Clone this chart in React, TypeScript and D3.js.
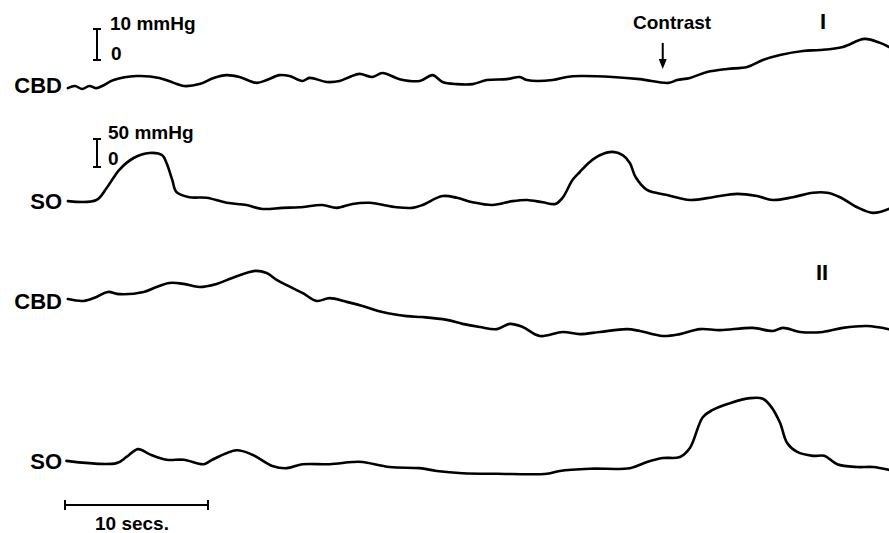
import React from "react";
import * as d3 from "d3";

// time in seconds, pressure in mmHg
const cbd1T = [0.2,0.7,1.2,1.7,2.2,2.6,3.4,5.0,6.6,7.6,8.3,9.4,10.4,11.3,12.2,13.4,14.1,15.0,15.7,16.6,17.1,18.3,19.2,19.9,20.6,21.5,22.2,23.4,24.8,25.7,26.4,27.4,28.5,29.5,30.9,31.8,32.3,34.1,35.1,36.0,38.3,40.2,42.2,42.8,43.7,44.9,46.3,47.7,48.8,50.0,51.6,52.8,54.4,55.9,57.0,57.6];
const cbd1V = [0.6,1.3,0.3,1.3,0.6,1.3,3.2,4.5,3.9,2.3,1.3,1.9,3.9,4.8,4.2,2.3,3.2,4.8,4.5,2.9,3.9,2.6,2.9,4.2,5.2,4.2,5.5,3.5,2.9,4.8,2.6,1.9,1.9,3.2,3.5,4.2,3.2,3.2,4.2,4.5,4.2,3.5,2.3,3.2,3.9,5.8,6.8,7.4,9.7,11.3,12.6,12.9,13.9,16.5,15.2,13.9];

const so1T = [0.2,2.2,2.9,3.8,4.8,5.9,6.8,7.1,7.5,7.8,8.7,9.9,11.3,12.7,13.8,15.2,16.4,18.0,19.0,20.1,21.3,23.2,24.3,25.0,26.4,27.4,28.5,29.9,31.3,32.3,33.4,34.3,34.8,35.5,36.0,36.7,37.4,38.3,39.0,39.5,39.9,40.7,42.1,43.7,45.3,47.0,48.4,49.5,50.9,52.3,53.3,54.2,55.4,56.5,57.6];
const so1V = [23,25,46,79,100,109,105,91,61,39,30,29,20,16,9,11,12,16,11,18,20,12,11,16,32,29,21,16,23,25,21,18,29,61,75,93,105,111,105,91,66,43,34,25,30,36,32,25,30,38,38,30,12,2,9];

const cbd2T = [0.2,1.3,2.2,3.0,3.8,5.5,6.4,7.3,8.3,9.4,10.6,11.7,13.3,14.1,14.8,15.5,16.6,17.6,18.5,19.7,20.8,22.2,23.9,25.0,26.7,27.8,29.0,30.2,31.1,32.0,33.2,34.8,36.0,37.4,39.3,40.2,41.8,43.0,44.4,45.8,48.1,49.5,50.2,51.4,53.0,54.4,56.1,57.6];
const cbd2V = [13.2,12.6,13.9,15.5,14.8,15.5,17.1,18.4,18.1,17.1,18.1,20.0,22.3,21.6,19.4,17.7,15.2,12.6,13.5,12.3,11.0,9.0,7.7,7.4,6.5,5.2,4.2,3.5,5.2,4.2,1.3,2.6,1.9,2.6,3.5,2.9,1.3,1.9,3.5,3.2,3.9,2.9,3.9,2.6,2.6,3.9,4.5,3.5];

const so2T = [0.1,3.6,4.3,5.1,5.9,7.1,8.3,9.7,10.3,12.0,13.1,14.5,15.5,16.6,18.5,20.1,20.8,22.7,24.8,26.0,27.8,30.2,33.7,34.6,36.7,39.5,40.7,41.8,43.0,43.7,44.6,45.3,46.5,47.9,48.8,49.4,50.0,50.5,51.2,52.3,53.1,54.0,55.4,56.5,57.6];
const so2V = [27,23,34,48,39,29,29,21,29,46,38,18,14,21,21,25,25,16,14,9,5,4,4,9,13,14,25,32,34,50,105,118,130,139,138,123,95,59,43,36,36,21,16,16,11];

const traceLabels = ["CBD", "SO", "CBD", "SO"];
const phaseLabels = ["I", "II"];
const cbdScaleLabel = ["10 mmHg", "0"];
const soScaleLabel = ["50 mmHg", "0"];
const cbdScaleValue = 10;
const soScaleValue = 50;
const timeScaleSeconds = 10;
const timeScaleLabel = "10 secs.";
const contrastLabel = "Contrast";
const contrastTime = 41.8;
const duration = 57.6;

export default function App() {
  const W = 889, H = 533;
  const x = d3.scaleLinear().domain([0, duration]).range([65, 65 + duration * 14.3]);
  const yCbd1 = d3.scaleLinear().domain([0, 10]).range([90, 59]);
  const ySo1 = d3.scaleLinear().domain([0, 50]).range([214, 186]);
  const yCbd2 = d3.scaleLinear().domain([0, 10]).range([340, 309]);
  const ySo2 = d3.scaleLinear().domain([0, 50]).range([476, 448]);

  const mk = (T: number[], V: number[], y: d3.ScaleLinear<number, number>) =>
    d3.line<number>().x((_, i) => x(T[i])).y((v) => y(v)).curve(d3.curveCatmullRom.alpha(0.5))(V) || "";

  const traces = [
    { d: mk(cbd1T, cbd1V, yCbd1), label: traceLabels[0], ly: 93 },
    { d: mk(so1T, so1V, ySo1), label: traceLabels[1], ly: 209 },
    { d: mk(cbd2T, cbd2V, yCbd2), label: traceLabels[2], ly: 309 },
    { d: mk(so2T, so2V, ySo2), label: traceLabels[3], ly: 469 },
  ];

  const font = "'Liberation Sans', Arial, Helvetica, sans-serif";
  const cbdLen = yCbd1(0) - yCbd1(cbdScaleValue);
  const soLen = ySo1(0) - ySo1(soScaleValue);
  const vBar = (bx: number, bottom: number, len: number) => (
    <g stroke="#000" strokeWidth={2}>
      <line x1={bx} x2={bx} y1={bottom} y2={bottom - len} />
      <line x1={bx - 4} x2={bx + 4} y1={bottom} y2={bottom} />
      <line x1={bx - 4} x2={bx + 4} y1={bottom - len} y2={bottom - len} />
    </g>
  );
  const tx0 = x(0), tx1 = x(timeScaleSeconds);
  const cx = x(contrastTime);

  return (
    <svg width={W} height={H} style={{ position: "absolute", left: 0, top: 0, background: "#fff" }}
      fontFamily={font} fontWeight="bold">
      {traces.map((t, i) => (
        <g key={i}>
          <path d={t.d} fill="none" stroke="#000" strokeWidth={2.6} strokeLinejoin="round" strokeLinecap="round" />
          <text x={62} y={t.ly} fontSize={22} textAnchor="end">{t.label}</text>
        </g>
      ))}
      {vBar(97, 60, cbdLen)}
      <text x={110} y={30} fontSize={19}>{cbdScaleLabel[0]}</text>
      <text x={111} y={60} fontSize={19}>{cbdScaleLabel[1]}</text>
      {vBar(97, 167, soLen)}
      <text x={108} y={139} fontSize={19}>{soScaleLabel[0]}</text>
      <text x={108} y={165} fontSize={19}>{soScaleLabel[1]}</text>
      <text x={633} y={29} fontSize={19}>{contrastLabel}</text>
      <line x1={cx} x2={cx} y1={43} y2={66} stroke="#000" strokeWidth={2} />
      <path d={`M${cx - 4},${59} L${cx},${69} L${cx + 4},${59} Z`} fill="#000" />
      <text x={820} y={29} fontSize={22}>{phaseLabels[0]}</text>
      <text x={816} y={280} fontSize={22}>{phaseLabels[1]}</text>
      <g stroke="#000" strokeWidth={2}>
        <line x1={tx0} x2={tx1} y1={505} y2={505} />
        <line x1={tx0} x2={tx0} y1={500} y2={510} />
        <line x1={tx1} x2={tx1} y1={500} y2={510} />
      </g>
      <text x={95} y={530} fontSize={19}>{timeScaleLabel}</text>
    </svg>
  );
}
